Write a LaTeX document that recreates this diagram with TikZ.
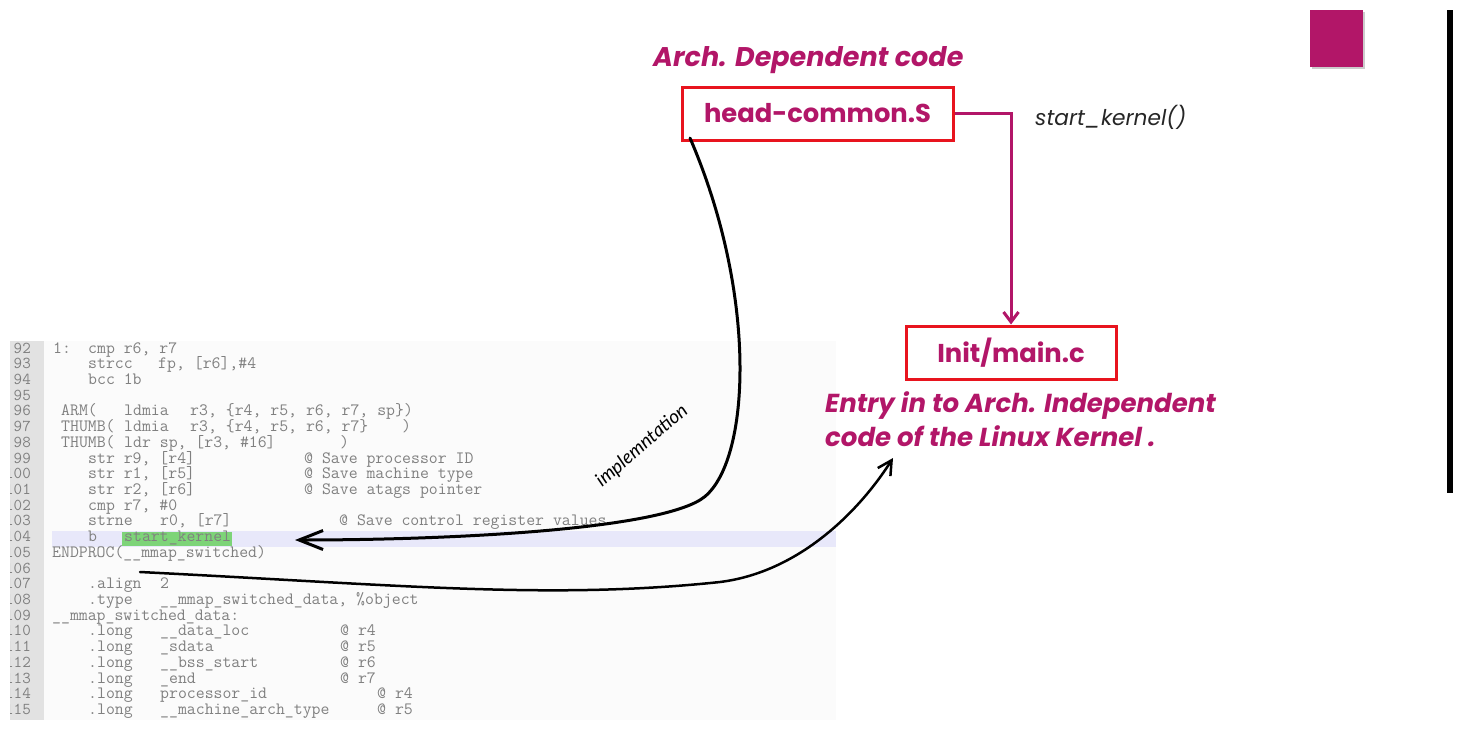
\documentclass[tikz,border=0pt]{standalone}
\usepackage{fontspec}
\setmainfont{Poppins}
\newfontfamily\handf{Lato}
\usetikzlibrary{arrows.meta}
\definecolor{mag}{RGB}{178,22,104}
\definecolor{boxred}{RGB}{232,20,30}
\definecolor{codegray}{RGB}{128,128,128}
\definecolor{gutter}{RGB}{226,226,226}
\definecolor{panel}{RGB}{251,251,251}
\definecolor{lav}{RGB}{232,232,250}
\definecolor{hlgreen}{RGB}{125,212,120}
\newcommand\cl[4]{\node[code] (#1) at (#2,{353+(#3-92)*15.72}) {#4};}
\newcommand\lnum[2]{\node[lnumst] (n#2) at (31,{353+(#2-92)*15.72}) {#2};}
\tikzset{
  code/.style={font=\ttfamily\fontsize{17.3}{17.3}\selectfont, text=codegray, anchor=base west, inner sep=0pt},
  lnumst/.style={font=\ttfamily\fontsize{16.6}{16.6}\selectfont, text=codegray, anchor=base east, inner sep=0pt},
  filebox/.style={draw=boxred, line width=3pt, text=mag, font=\bfseries\fontsize{25.8}{25.8}\selectfont, minimum height=53pt, inner sep=0pt},
  magtext/.style={text=mag, font=\bfseries\itshape\fontsize{26}{26}\selectfont, inner sep=0pt, anchor=base west},
  callarrow/.style={draw=mag, line width=3pt, -{Straight Barb[length=10pt,width=15pt]}},
  inkarrow/.style={draw=black, line width=3pt, line cap=round, -{Straight Barb[length=24pt,width=19pt]}},
  inkarrowb/.style={draw=black, line width=2.5pt, line cap=round, -{Straight Barb[length=14pt,width=15pt]}},
}
\begin{document}
\begin{tikzpicture}[x=1pt,y=-1pt]
\useasboundingbox (0,0) rectangle (1463,731);
\fill[white] (0,0) rectangle (1463,731);
% code panel
\begin{scope}
\clip (10,341) rectangle (836,720);
\fill[panel] (10,341) rectangle (836,720);
\fill[gutter] (10,341) rectangle (44,720);
\fill[lav] (52,531) rectangle (836,547);
\fill[hlgreen] (122,532) rectangle (232,546);
\foreach \n in {92,...,115} {\lnum{\n}{\n}}
\cl{c92a}{53}{92}{1:}
\cl{c92b}{88}{92}{cmp r6, r7}
\cl{c93a}{88}{93}{strcc}
\cl{c93b}{158}{93}{fp, [r6],\#4}
\cl{c94}{88}{94}{bcc 1b}
\cl{c96a}{61}{96}{ARM(}
\cl{c96b}{124}{96}{ldmia}
\cl{c96c}{190}{96}{r3, \{r4, r5, r6, r7, sp\})}
\cl{c97a}{61}{97}{THUMB(}
\cl{c97b}{124}{97}{ldmia}
\cl{c97c}{190}{97}{r3, \{r4, r5, r6, r7\}}
\cl{c97d}{402}{97}{)}
\cl{c98a}{61}{98}{THUMB(}
\cl{c98b}{124}{98}{ldr sp, [r3, \#16]}
\cl{c98c}{340}{98}{)}
\cl{c99a}{88}{99}{str r9, [r4]}
\cl{c99b}{304}{99}{@ Save processor ID}
\cl{c100a}{88}{100}{str r1, [r5]}
\cl{c100b}{304}{100}{@ Save machine type}
\cl{c101a}{88}{101}{str r2, [r6]}
\cl{c101b}{304}{101}{@ Save atags pointer}
\cl{c102}{88}{102}{cmp r7, \#0}
\cl{c103a}{88}{103}{strne}
\cl{c103b}{160}{103}{r0, [r7]}
\cl{c103c}{339}{103}{@ Save control register values}
\cl{c104a}{88}{104}{b}
\cl{sk}{124}{104}{start\_kernel}
\cl{c105}{52}{105}{ENDPROC(\_\_mmap\_switched)}
\cl{c107a}{88}{107}{.align}
\cl{c107b}{160}{107}{2}
\cl{c108a}{88}{108}{.type}
\cl{c108b}{160}{108}{\_\_mmap\_switched\_data, \%object}
\cl{c109}{52}{109}{\_\_mmap\_switched\_data:}
\cl{c110a}{88}{110}{.long}
\cl{c110b}{160}{110}{\_\_data\_loc}
\cl{c110c}{340}{110}{@ r4}
\cl{c111a}{88}{111}{.long}
\cl{c111b}{160}{111}{\_sdata}
\cl{c111c}{340}{111}{@ r5}
\cl{c112a}{88}{112}{.long}
\cl{c112b}{160}{112}{\_\_bss\_start}
\cl{c112c}{340}{112}{@ r6}
\cl{c113a}{88}{113}{.long}
\cl{c113b}{160}{113}{\_end}
\cl{c113c}{340}{113}{@ r7}
\cl{c114a}{88}{114}{.long}
\cl{c114b}{160}{114}{processor\_id}
\cl{c114c}{377}{114}{@ r4}
\cl{c115a}{88}{115}{.long}
\cl{c115b}{160}{115}{\_\_machine\_arch\_type}
\cl{c115c}{377}{115}{@ r5}
\end{scope}
% decorations right
\fill[gray!40] (1311.5,12) rectangle (1365,69);
\fill[mag] (1310,10) rectangle (1363,67);
\fill[black] (1447,10) rectangle (1453,493);
% titles and boxes
\node[magtext, font=\bfseries\itshape\fontsize{27}{27}\selectfont] (title) at (653,66) {Arch. Dependent code};
\node[filebox, minimum width=271pt] (head) at (817.5,113.5) {head-common.S};
\node[filebox, minimum width=210pt] (main) at (1011,352.5) {Init/main.c};
\node[magtext] (entry1) at (825,412) {Entry in to Arch. Independent};
\node[magtext] (entry2) at (825,446) {code of the Linux Kernel .};
\node[anchor=base west, inner sep=0pt, font=\itshape\fontsize{21.7}{21.7}\selectfont, text=black!85] (callabel) at (1035,125) {start\_kernel()};
\node[rotate=41, inner sep=0pt, font=\handf\itshape\fontsize{19}{19}\selectfont] (impl) at (642,446) {implemntation};
% connectors
\draw[callarrow] (head.east) -| (main.north);
\coordinate (a1start) at (690,138);
\coordinate (a1tip) at (295,540);
\draw[inkarrow] (a1start) .. controls (760,300) and (750,470) .. (700,500) .. controls (650,530) and (450,540) .. (a1tip);
\coordinate (a2start) at (140,572);
\coordinate (a2tip) at (893,458);
\draw[inkarrowb] (a2start) .. controls (400,585) and (550,600) .. (720,582) .. controls (800,572) and (860,510) .. (a2tip);
\end{tikzpicture}
\end{document}
